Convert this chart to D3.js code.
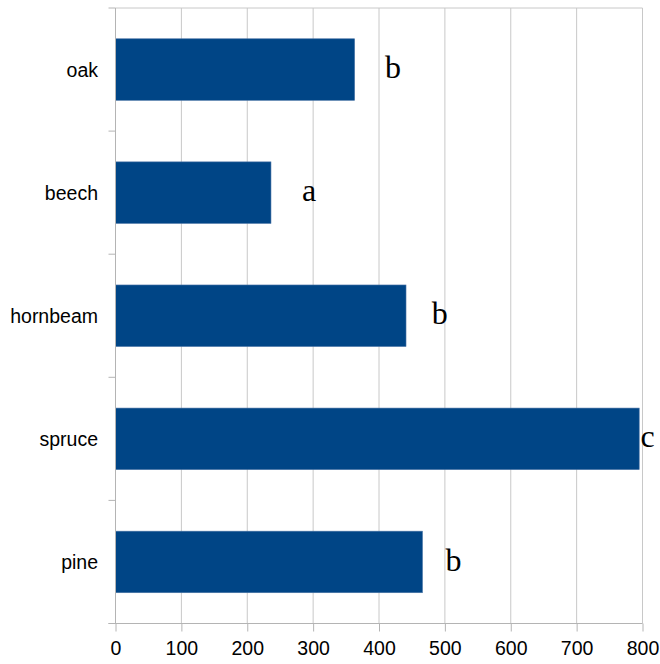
<!DOCTYPE html>
<html>
<head>
<meta charset="utf-8">
<script src="https://cdn.jsdelivr.net/npm/d3@7"></script>
<style>
  body { margin: 0; background: #fff; }
  .lab { font-family: "Liberation Sans", Arial, sans-serif; font-size: 19.5px; fill: #000; }
  .sig { font-family: "Liberation Serif", "Times New Roman", serif; font-size: 32px; fill: #000; }
</style>
</head>
<body>
<div id="chart"></div>
<script>
// tree species, top to bottom
var species = ["oak", "beech", "hornbeam", "spruce", "pine"];
var values = [363, 236, 441, 795, 466];
// significance letters and where they sit (in data units)
var letters = ["b", "a", "b", "c", "b"];
var letterPos = [409, 283, 480, 797, 501];
var xTicks = [0, 100, 200, 300, 400, 500, 600, 700, 800];

var width = 660, height = 664;
var plotL = 115.5, plotR = 642.5, plotT = 8, plotB = 623.5;

var svg = d3.select("#chart")
    .append("svg")
    .attr("width", width)
    .attr("height", height);

var x = d3.scaleLinear().domain([0, 800]).range([plotL, plotR]);
var y = d3.scaleBand().domain(species).range([plotT, plotB]).paddingInner(0.5).paddingOuter(0.25);

// vertical gridlines
svg.append("g")
    .selectAll("line")
    .data(xTicks.slice(1))
    .enter().append("line")
    .attr("x1", function(d) { return x(d); })
    .attr("x2", function(d) { return x(d); })
    .attr("y1", plotT)
    .attr("y2", plotB)
    .attr("stroke", "#c8c8c8")
    .attr("stroke-width", 1);

// top border
svg.append("line")
    .attr("x1", plotL).attr("x2", plotR)
    .attr("y1", plotT).attr("y2", plotT)
    .attr("stroke", "#c8c8c8");

// bars
svg.append("g")
    .selectAll("rect")
    .data(values)
    .enter().append("rect")
    .attr("x", x(0))
    .attr("y", function(d, i) { return y(species[i]); })
    .attr("width", function(d) { return x(d) - x(0); })
    .attr("height", y.bandwidth())
    .attr("fill", "#004586")
    .attr("stroke", "#4a74a6")
    .attr("stroke-width", 0.6);

// bottom axis
var xAxis = svg.append("g")
    .attr("transform", "translate(0," + plotB + ")")
    .call(d3.axisBottom(x).tickValues(xTicks).tickSize(8).tickPadding(10));
xAxis.select(".domain").attr("stroke", "#b4b4b4").attr("d", "M" + (plotL - 7) + ",0H" + plotR);
xAxis.selectAll(".tick line").attr("stroke", "#b4b4b4");
xAxis.selectAll("text").attr("class", "lab");
xAxis.attr("font-size", null).attr("font-family", null);

// left axis: ticks on band boundaries
var yAxis = svg.append("g");
yAxis.append("line")
    .attr("x1", plotL).attr("x2", plotL)
    .attr("y1", plotT).attr("y2", plotB)
    .attr("stroke", "#b4b4b4");
var step = y.step();
yAxis.selectAll(".bt")
    .data(d3.range(species.length + 1))
    .enter().append("line")
    .attr("x1", plotL - 7).attr("x2", plotL)
    .attr("y1", function(i) { return plotT + i * step; })
    .attr("y2", function(i) { return plotT + i * step; })
    .attr("stroke", "#b4b4b4");
yAxis.selectAll("text")
    .data(species)
    .enter().append("text")
    .attr("class", "lab")
    .attr("text-anchor", "end")
    .attr("x", plotL - 17.5)
    .attr("y", function(d) { return y(d) + y.bandwidth() / 2; })
    .attr("dy", "0.36em")
    .text(function(d) { return d; });

// significance letters
svg.append("g")
    .selectAll("text")
    .data(letters)
    .enter().append("text")
    .attr("class", "sig")
    .attr("x", function(d, i) { return x(letterPos[i]); })
    .attr("y", function(d, i) { return y(species[i]) + y.bandwidth() / 2; })
    .attr("dy", "0.27em")
    .text(function(d) { return d; });
</script>
</body>
</html>
